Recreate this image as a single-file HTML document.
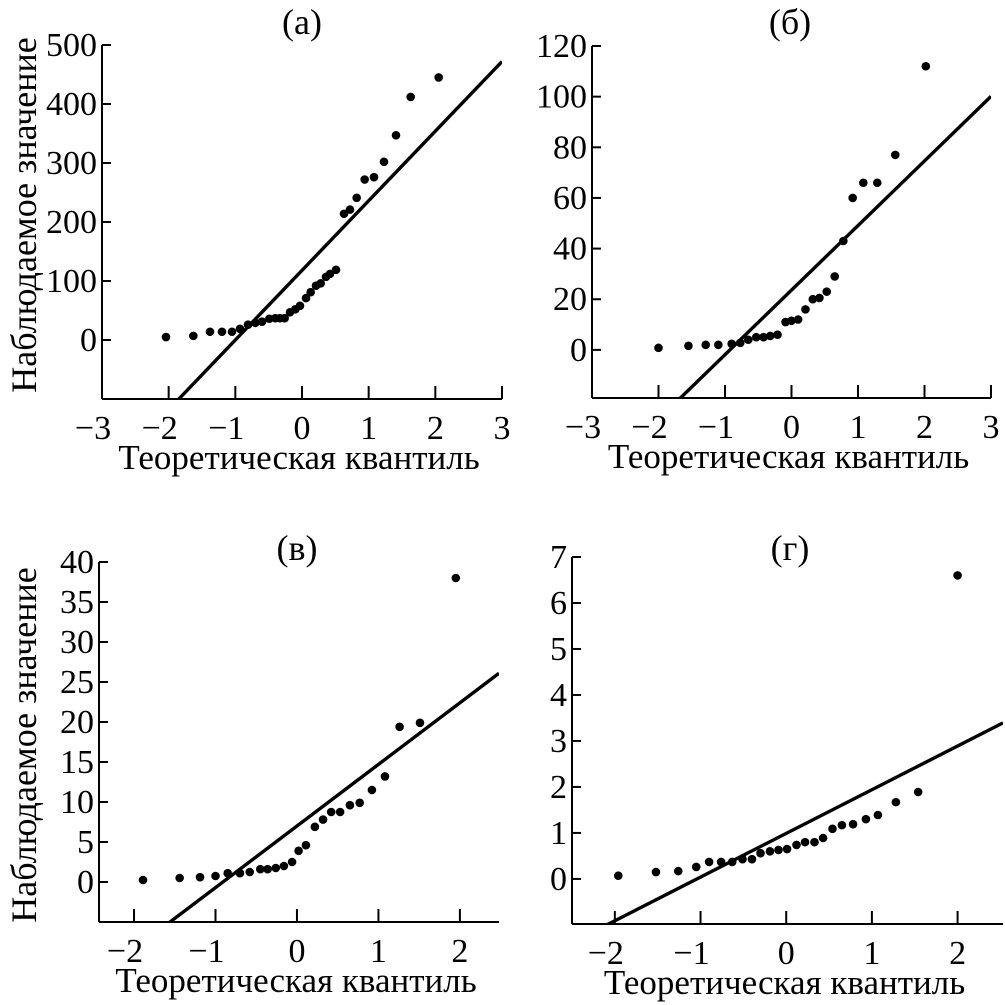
<!DOCTYPE html>
<html><head><meta charset="utf-8"><style>
html,body{margin:0;padding:0;background:#fff}
svg{display:block}
text{font-family:"Liberation Serif","DejaVu Serif",serif;fill:#000}
</style></head><body>
<svg id="chart" width="1005" height="1005" viewBox="0 0 1005 1005"></svg>
<script>
// Panel (а)
const aX=[-2.04,-1.63,-1.38,-1.2,-1.05,-0.93,-0.81,-0.7,-0.6,-0.49,-0.4,-0.33,-0.26,-0.18,-0.1,-0.03,0.06,0.13,0.21,0.28,0.36,0.42,0.51,0.63,0.72,0.82,0.94,1.08,1.23,1.41,1.63,2.05];
const aY=[5,7,14,14,14,19,26,29,31,36,37,37,37,47,52,58,71,81,92,96,107,112,119,214,221,241,272,276,302,347,412,445];
const aLine=[118,118];
const aXTicks=[-3,-2,-1,0,1,2,3];
const aYTicks=[0,100,200,300,400,500];
// Panel (б)
const bX=[-2.0,-1.55,-1.29,-1.1,-0.9,-0.77,-0.65,-0.53,-0.42,-0.32,-0.21,-0.09,0,0.1,0.21,0.32,0.42,0.53,0.65,0.78,0.92,1.08,1.29,1.56,2.02];
const bY=[0.8,1.6,2,2,2.4,2.8,4,5,5,5.5,6,11,11.5,12,16,20,20.5,23,29,43,60,66,66,77,112];
const bLine=[23.6,25.5];
const bXTicks=[-3,-2,-1,0,1,2,3];
const bYTicks=[0,20,40,60,80,100,120];
// Panel (в)
const cX=[-1.89,-1.44,-1.19,-1.0,-0.85,-0.7,-0.58,-0.45,-0.36,-0.26,-0.16,-0.06,0.02,0.11,0.22,0.32,0.42,0.53,0.65,0.77,0.92,1.08,1.26,1.51,1.95];
const cY=[0.25,0.5,0.6,0.75,1.1,1.1,1.25,1.6,1.6,1.75,2,2.5,3.9,4.6,6.9,7.8,8.75,8.75,9.6,9.9,11.5,13.2,19.4,19.9,38];
const cLine=[7.0,7.7];
const cXTicks=[-2,-1,0,1,2];
const cYTicks=[0,5,10,15,20,25,30,35,40];
// Panel (г)
const dX=[-1.96,-1.52,-1.26,-1.05,-0.9,-0.76,-0.63,-0.51,-0.4,-0.3,-0.19,-0.09,0.01,0.12,0.22,0.33,0.43,0.54,0.65,0.78,0.93,1.07,1.28,1.54,2.0];
const dY=[0.07,0.15,0.17,0.26,0.37,0.37,0.37,0.43,0.43,0.56,0.6,0.63,0.65,0.74,0.8,0.8,0.89,1.09,1.17,1.19,1.3,1.39,1.67,1.89,6.6];
const dLine=[0.99,0.95];
const dXTicks=[-2,-1,0,1,2];
const dYTicks=[0,1,2,3,4,5,6,7];

const NS="http://www.w3.org/2000/svg";
const svg=document.getElementById('chart');
function mk(tag,attrs,parent,text){const e=document.createElementNS(NS,tag);for(const k in attrs)e.setAttribute(k,attrs[k]);if(text!==undefined)e.textContent=text;(parent||svg).appendChild(e);return e;}
function fmt(v){return v<0?'\u2212'+(-v):String(v);}

function panel(id,title,box,xs,ys,line,xt,yt){
  const g=mk('g',{});
  
  
  const sx=v=>box.l+(v-box.xmin)/(box.xmax-box.xmin)*(box.r-box.l);
  const sy=v=>box.b-(v-box.ymin)/(box.ymax-box.ymin)*(box.b-box.t);
  const ytop=sy(yt[yt.length-1]);
  const cid='clip-'+id;
  const cp=mk('clipPath',{id:cid},g);
  mk('rect',{x:box.l,y:ytop-40,width:box.r-box.l,height:box.b-ytop+40},cp);
  const ln=mk('line',{x1:sx(box.xmin),y1:sy(line[0]+line[1]*box.xmin),x2:sx(box.xmax),y2:sy(line[0]+line[1]*box.xmax),stroke:'#000','stroke-width':3.4,'clip-path':'url(#'+cid+')'},g);
  
  
  const ax=mk('line',{x1:box.l,y1:box.b,x2:box.r,y2:box.b,stroke:'#000','stroke-width':2},g);
  
  
  const ay=mk('line',{x1:box.l,y1:box.b,x2:box.l,y2:ytop,stroke:'#000','stroke-width':2},g);
  
  
  xt.forEach(v=>{
    const x=sx(v);
    mk('line',{x1:x,y1:box.b,x2:x,y2:box.b-13,stroke:'#000','stroke-width':2},g);
    const t=mk('text',{x:x-(v<0?9:0),y:box.b+40,'font-size':34,'text-anchor':'middle'},g,fmt(v));
    
    
  });
  yt.forEach(v=>{
    const y=sy(v);
    mk('line',{x1:box.l,y1:y,x2:box.l+9,y2:y,stroke:'#000','stroke-width':2},g);
    const t=mk('text',{x:box.l-5,y:y+11,'font-size':34,'text-anchor':'end'},g,fmt(v));
    
    
  });
  xs.forEach((v,i)=>{
    const c=mk('circle',{cx:sx(v),cy:sy(ys[i]),r:4.3,fill:'#000'},g);
    
    
  });
  const tt=mk('text',{x:box.tx,y:box.ty,'font-size':36,'text-anchor':'middle'},g,title);
  
  
  const xl=mk('text',{x:(box.l+box.r)/2-3,y:box.b+70,'font-size':35,'text-anchor':'middle'},g,'Теоретическая квантиль');
  
  
}
panel('a','(а)',{l:102,r:502,xmin:-3,xmax:3,b:399,t:45,ymin:-100,ymax:500,tx:302,ty:34},aX,aY,aLine,aXTicks,aYTicks);
panel('b','(б)',{l:592,r:991,xmin:-3,xmax:3,b:398,t:46,ymin:-19,ymax:120,tx:790,ty:34},bX,bY,bLine,bXTicks,bYTicks);
panel('c','(в)',{l:99,r:499,xmin:-2.43,xmax:2.48,b:922,t:562,ymin:-5,ymax:40,tx:297,ty:560},cX,cY,cLine,cXTicks,cYTicks);
panel('d','(г)',{l:572,r:1003,xmin:-2.5,xmax:2.53,b:924,t:557,ymin:-0.98,ymax:7,tx:790,ty:560},dX,dY,dLine,dXTicks,dYTicks);
[[215,'y-axis-title-top'],[745,'y-axis-title-bottom']].forEach(([cy,n])=>{
  const t=mk('text',{x:0,y:0,'font-size':36,'text-anchor':'middle',transform:'translate(36,'+cy+') rotate(-90)'},svg,'Наблюдаемое значение');
  
  
});
</script>
</body></html>
